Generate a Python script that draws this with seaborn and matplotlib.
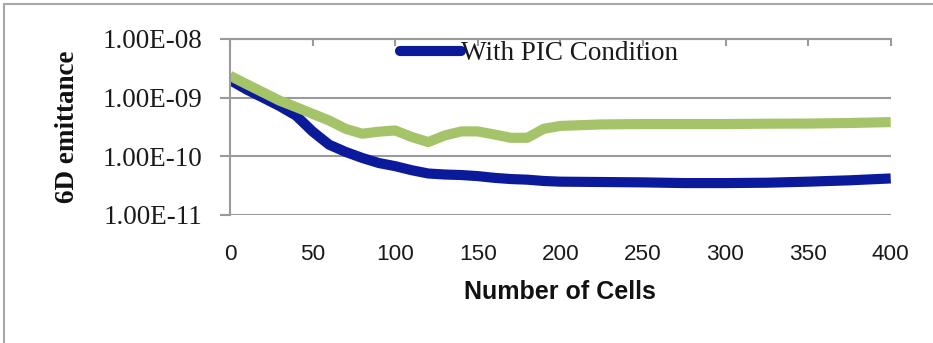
import numpy as np
import pandas as pd
import matplotlib
matplotlib.use("Agg")
import matplotlib.pyplot as plt
from matplotlib.lines import Line2D
from matplotlib import font_manager
import seaborn as sns

# Emittance evolution along the channel
cells = [0, 10, 20, 30, 40, 50, 60, 70, 80, 90, 100, 110, 120, 130, 140, 150,
         160, 170, 180, 190, 200, 225, 250, 275, 300, 325, 350, 375, 400]
with_pic = [2.0e-9, 1.38e-9, 1.0e-9, 7.2e-10, 4.95e-10, 2.65e-10, 1.58e-10,
            1.19e-10, 9.4e-11, 7.7e-11, 6.8e-11, 5.8e-11, 5.1e-11, 4.9e-11,
            4.8e-11, 4.6e-11, 4.3e-11, 4.1e-11, 4.0e-11, 3.8e-11, 3.7e-11,
            3.65e-11, 3.6e-11, 3.5e-11, 3.5e-11, 3.55e-11, 3.7e-11, 3.9e-11,
            4.2e-11]
without_pic = [2.36e-9, 1.7e-9, 1.23e-9, 8.9e-10, 6.9e-10, 5.3e-10, 4.08e-10,
               2.95e-10, 2.43e-10, 2.63e-10, 2.76e-10, 2.14e-10, 1.75e-10,
               2.27e-10, 2.66e-10, 2.66e-10, 2.36e-10, 2.07e-10, 2.07e-10,
               2.95e-10, 3.3e-10, 3.5e-10, 3.55e-10, 3.55e-10, 3.55e-10,
               3.6e-10, 3.62e-10, 3.7e-10, 3.83e-10]
series_names = ["With PIC Condition", "Without PIC Condition"]
x_ticks = [0, 50, 100, 150, 200, 250, 300, 350, 400]
y_ticks = [1e-11, 1e-10, 1e-9, 1e-8]
y_tick_labels = ["1.00E-11", "1.00E-10", "1.00E-09", "1.00E-08"]

BLUE = "#0A1A9B"
GREEN = "#A5C46A"
GRID = "#9A9A9A"

sns.set_theme(style="white")

installed = {f.name for f in font_manager.fontManager.ttflist}
narrow = "Liberation Sans"
for cand in ("Liberation Sans Narrow", "DejaVu Sans Condensed"):
    if cand in installed:
        narrow = cand
        break
serif = "Liberation Serif"

df = pd.DataFrame({
    "cells": cells * 2,
    "emittance": with_pic + without_pic,
    "series": [series_names[0]] * len(cells) + [series_names[1]] * len(cells),
})

W, H, DPI = 933, 343, 100
fig = plt.figure(figsize=(W / DPI, H / DPI), dpi=DPI)
fig.patch.set_facecolor("white")

left, right, top, bottom = 230, 890.7, 39, 215
ax = fig.add_axes([left / W, 1 - bottom / H, (right - left) / W, (bottom - top) / H])

LW = 7.3
sns.lineplot(data=df, x="cells", y="emittance", hue="series",
             hue_order=series_names, palette=[BLUE, GREEN],
             linewidth=LW, ax=ax, legend=False, sort=False)
for ln in ax.lines:
    ln.set_solid_capstyle("butt")
    ln.set_solid_joinstyle("round")

ax.set_yscale("log")
ax.set_ylim(1e-11, 1e-8)
ax.set_xlim(0, 400)
ax.set_yticks(y_ticks)
ax.set_yticklabels(y_tick_labels)
ax.yaxis.set_minor_locator(matplotlib.ticker.NullLocator())
ax.set_xticks(x_ticks)
ax.set_xticklabels([str(v) for v in x_ticks])

ax.grid(axis="y", color=GRID, linewidth=1.5)
ax.grid(axis="x", visible=False)
ax.set_axisbelow(True)

for side in ("bottom", "right"):
    ax.spines[side].set_visible(False)
for side in ("left", "top"):
    ax.spines[side].set_color(GRID)
    ax.spines[side].set_linewidth(1.5)

ax.tick_params(axis="y", which="major", left=True, direction="out",
               length=7.2, width=1.5, color=GRID, pad=13)
ax.tick_params(axis="x", which="major", top=True, bottom=False,
               labeltop=False, labelbottom=True, direction="in",
               length=5, width=1.5, color=GRID, pad=21)

for lbl in ax.get_yticklabels():
    lbl.set_fontfamily(serif)
    lbl.set_fontsize(19.5)
    lbl.set_color("#1a1a1a")
for lbl in ax.get_xticklabels():
    lbl.set_fontfamily(narrow)
    lbl.set_fontsize(16.2)
    lbl.set_color("#1a1a1a")

ax.set_xlabel("Number of Cells", fontfamily=narrow, fontweight="bold",
              fontsize=18, color="#111111", labelpad=11)
ax.set_ylabel("6D emittance", fontfamily=serif, fontweight="bold",
              fontsize=19.5, color="#111111", labelpad=16)

handle = Line2D([], [], color=BLUE, linewidth=LW, solid_capstyle="round")
leg = ax.legend([handle], [series_names[0]], loc="center left",
                bbox_to_anchor=((400 - left) / (right - left), 1 - (54 - top) / (bottom - top)),
                frameon=False, handlelength=2.25, handletextpad=0.0,
                borderaxespad=0, borderpad=0,
                prop={"family": serif, "size": 19.5})
for t in leg.get_texts():
    t.set_color("#1a1a1a")

# Outer chart-area frame
fig.add_artist(Line2D([4 / W, 4 / W], [0, 1 - 4 / H], transform=fig.transFigure,
                      color="#A8A8A8", linewidth=1.5))
fig.add_artist(Line2D([4 / W, 1], [1 - 4 / H, 1 - 4 / H], transform=fig.transFigure,
                      color="#A8A8A8", linewidth=1.5))

fig.savefig("out.png", dpi=DPI, facecolor="white")
